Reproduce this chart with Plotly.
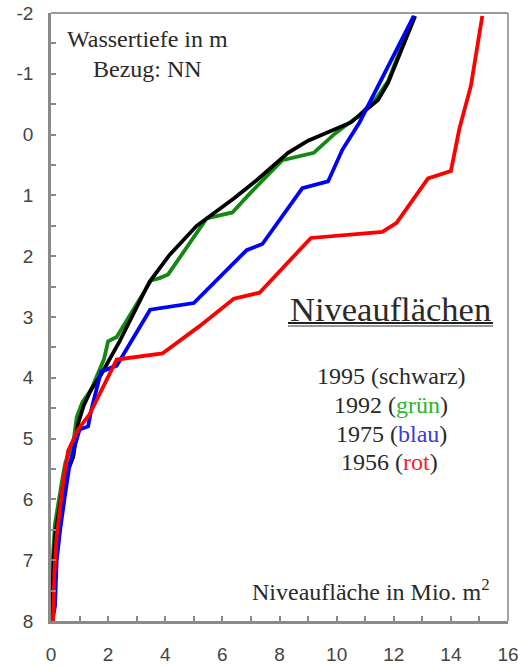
import plotly.graph_objects as go

# Water level (m relative to NN) vs. level area (million m²) per survey year
area_1995 = [0.02, 0.05, 0.14, 0.3, 0.45, 0.78, 0.95, 1.15, 1.4, 1.75, 2.4, 3.45, 4.15, 5.1, 6.4, 7.2, 8.3, 9.0, 10.5, 11.45, 11.8, 12.75]
depth_1995 = [8.0, 7.5, 6.6, 6.1, 5.7, 5.3, 4.75, 4.45, 4.2, 3.95, 3.4, 2.42, 1.98, 1.5, 1.05, 0.75, 0.3, 0.1, -0.2, -0.57, -0.85, -1.95]

area_1992 = [0.03, 0.06, 0.14, 0.3, 0.42, 0.5, 0.8, 0.9, 1.1, 1.4, 1.85, 2.0, 2.3, 3.5, 3.8, 4.1, 5.45, 6.35, 7.0, 8.1, 9.2, 9.9, 10.8, 11.4, 11.8, 12.7]
depth_1992 = [8.0, 7.0, 6.4, 5.9, 5.6, 5.4, 5.0, 4.65, 4.4, 4.2, 3.7, 3.4, 3.33, 2.4, 2.36, 2.3, 1.38, 1.28, 0.95, 0.42, 0.3, 0.0, -0.32, -0.6, -0.88, -1.95]

area_1975 = [0.05, 0.14, 0.2, 0.32, 0.5, 0.66, 1.0, 1.3, 1.4, 1.75, 2.3, 3.47, 5.0, 6.85, 7.4, 8.8, 9.7, 10.2, 10.8, 12.7]
depth_1975 = [8.0, 7.75, 7.0, 6.5, 5.9, 5.4, 4.85, 4.8, 4.55, 3.9, 3.8, 2.88, 2.77, 1.9, 1.8, 0.88, 0.77, 0.25, -0.2, -1.95]

area_1956 = [0.07, 0.12, 0.2, 0.43, 0.6, 0.95, 1.35, 2.3, 3.9, 5.2, 6.4, 7.3, 9.1, 11.6, 12.1, 13.2, 14.0, 14.3, 14.7, 15.1]
depth_1956 = [8.0, 7.2, 6.6, 5.7, 5.2, 4.85, 4.6, 3.7, 3.6, 3.15, 2.7, 2.6, 1.7, 1.6, 1.45, 0.72, 0.6, -0.1, -0.8, -1.95]

x_tickvals = [0, 2, 4, 6, 8, 10, 12, 14, 16]
x_ticktext = ["0", "2", "4", "6", "8", "10", "12", "14", "16"]
y_tickvals = [-2, -1, 0, 1, 2, 3, 4, 5, 6, 7, 8]
y_ticktext = ["-2", "-1", "0", "1", "2", "3", "4", "5", "6", "7", "8"]

series = [
    ("1992", area_1992, depth_1992, "#128a12"),
    ("1995", area_1995, depth_1995, "#000000"),
    ("1975", area_1975, depth_1975, "#0000ff"),
    ("1956", area_1956, depth_1956, "#ff0000"),
]

fig = go.Figure()
for name, xs, ys, col in series:
    fig.add_trace(go.Scatter(x=xs, y=ys, mode="lines", name=name,
                             line=dict(color=col, width=3.8), showlegend=False))

serif = "Liberation Serif"
txt = "#2a2a2a"

def note(text, px, py, size, xanchor="center"):
    fig.add_annotation(text=text, x=(px - 51) / 457, y=(621 - py) / 608,
                       xref="paper", yref="paper", showarrow=False,
                       xanchor=xanchor, yanchor="middle",
                       font=dict(family=serif, size=size, color=txt))

note("Wassertiefe in m", 147, 39, 24)
note("Bezug: NN", 147, 69, 24)
note("Niveauflächen", 390, 309, 34.5)
note("1995 (schwarz)", 391, 376, 24)
note("1992 (<span style='color:#2db52d'>grün</span>)", 391, 405, 24)
note("1975 (<span style='color:#3a3ae0'>blau</span>)", 391, 434, 24)
note("1956 (<span style='color:#ff2020'>rot</span>)", 389, 462, 24)
note("Niveaufläche in Mio. m<sup>2</sup>", 492, 590, 24, xanchor="right")

# underline with a soft shadow below the heading
for (dy, col, w) in [(3, "#9a9a9a", 2.2), (0, "#222222", 2.2)]:
    fig.add_shape(type="line", xref="paper", yref="paper",
                  x0=(288 - 51) / 457, x1=(493 - 51) / 457,
                  y0=(621 - 323 - dy) / 608, y1=(621 - 323 - dy) / 608,
                  line=dict(color=col, width=w))

axis_font = dict(family="Liberation Sans", size=19, color="#444444")
fig.update_xaxes(range=[0, 16], tickvals=x_tickvals, ticktext=x_ticktext,
                 ticks="inside", ticklen=5, tickwidth=1.5, tickcolor="#888888",
                 minor=dict(tickvals=list(range(0, 17)), ticks="inside", ticklen=5,
                            tickwidth=1.5, tickcolor="#888888"),
                 showline=True, linecolor="#8a8a8a", linewidth=2.5, mirror=False,
                 showgrid=False, zeroline=False, tickfont=axis_font,
                 ticklabelstandoff=14, ticklabeloverflow="allow", automargin=False)
fig.update_yaxes(range=[8, -2], tickvals=y_tickvals, ticktext=y_ticktext,
                 ticks="inside", ticklen=5, tickwidth=1.5, tickcolor="#888888",
                 minor=dict(dtick=0.5, ticks="inside", ticklen=5,
                            tickwidth=1.5, tickcolor="#888888"),
                 showline=True, linecolor="#8a8a8a", linewidth=2.5,
                 showgrid=False, zeroline=False, tickfont=axis_font,
                 ticklabelstandoff=11, ticklabeloverflow="allow", automargin=False)

# thin frame on top and right
fig.add_shape(type="line", xref="paper", yref="paper", x0=0, x1=1, y0=1, y1=1,
              line=dict(color="#9a9a9a", width=1.8))
fig.add_shape(type="line", xref="paper", yref="paper", x0=1, x1=1, y0=0, y1=1,
              line=dict(color="#9a9a9a", width=1.8))

fig.update_layout(width=518, height=666, margin=dict(l=51, r=10, t=13, b=45, autoexpand=False),
                  plot_bgcolor="white", paper_bgcolor="white")

fig.write_html("out.html")
